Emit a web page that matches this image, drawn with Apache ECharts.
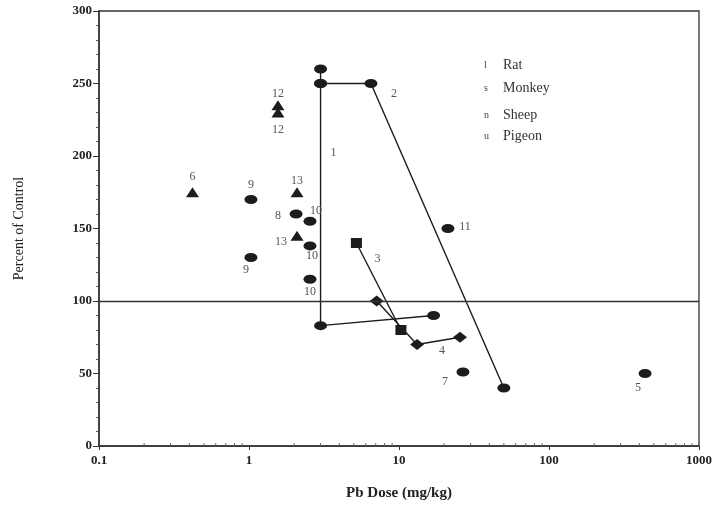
<!DOCTYPE html>
<html>
<head>
<meta charset="utf-8">
<script src="https://cdn.jsdelivr.net/npm/echarts@6/dist/echarts.min.js"></script>
<style>html,body{margin:0;padding:0;background:#fff}#c{width:718px;height:506px}</style>
</head>
<body>
<div id="c"></div>
<script>
// ---- data ----
const xTicks = [0.1, 1, 10, 100, 1000];
const yTicks = [0, 50, 100, 150, 200, 250, 300];
const controlLevel = 100;

// connected study lines
const line1X = [3, 3, 3, 17];
const line1Y = [260, 250, 83, 90];
const line2X = [3, 6.5, 50];
const line2Y = [250, 250, 40];
const line3X = [5.2, 10.3];           // monkey
const line3Y = [140, 80];
const line4X = [7.1, 13.2, 25.5];     // sheep
const line4Y = [100, 70, 75];

// isolated rat points
const ratX = [437, 26.7, 2.06, 1.03, 1.03, 2.55, 2.55, 2.55, 21.2];
const ratY = [50, 51, 160, 170, 130, 155, 138, 115, 150];
const ratLabels = ['5', '7', '8', '9', '9', '10', '10', '10', '11'];

// pigeon points
const pigeonX = [0.42, 1.56, 1.56, 2.09, 2.09];
const pigeonY = [175, 235, 230, 175, 145];
const pigeonLabels = ['6', '12', '12', '13', '13'];

// line labels (anchored to a point of the line)
const lineLabelText = ['1', '2', '3', '4'];

const legendSymbols = ['l', 's', 'n', 'u'];
const legendNames = ['Rat', 'Monkey', 'Sheep', 'Pigeon'];

// ---- styles (pixel offsets for annotations) ----
const ratOffsets = [[-7, 14], [-18, 10], [-18, 2], [0, -15], [-5, 12], [6, -10], [2, 10], [0, 13], [17, -2]];
const pigeonOffsets = [[0, -15], [0, -11], [0, 17], [0, -11], [-16, 6]];
const lineLabelOffsets = [[13, 69], [23, 10], [21, 16], [25, 6]];
const legendRowTop = [58, 81, 108, 129];

const INK = '#1c1c1c';
const LBL = '#555';
const SERIF = '"Liberation Serif", "DejaVu Serif", serif';

function pts(xs, ys) { return xs.map((x, i) => [x, ys[i]]); }

function labelled(xs, ys, texts, offs) {
  return xs.map((x, i) => ({
    value: [x, ys[i]],
    label: { show: true, formatter: texts[i], position: 'inside', offset: offs[i],
      color: LBL, fontFamily: SERIF, fontSize: 12 }
  }));
}

const circleSize = [13, 9];
const lineStyle = { color: INK, width: 1.4 };

function lineSeries(xs, ys, symbol, size, labelIdx, anchorIdx) {
  const data = pts(xs, ys).map((p, i) => {
    const d = { value: p };
    if (i === anchorIdx) {
      d.label = { show: true, formatter: lineLabelText[labelIdx], position: 'inside',
        offset: lineLabelOffsets[labelIdx], color: LBL, fontFamily: SERIF, fontSize: 12 };
    }
    return d;
  });
  return {
    type: 'line', data, symbol, symbolSize: size, showAllSymbol: true,
    lineStyle, itemStyle: { color: INK, opacity: 1 }, z: 3, animation: false
  };
}

// minor ticks for log axis (2..9 within each decade)
const minorX = [];
for (let d = 0; d < xTicks.length - 1; d++) {
  for (let k = 2; k <= 9; k++) minorX.push(+(xTicks[d] * k).toPrecision(3));
}

const chart = echarts.init(document.getElementById('c'));
chart.setOption({
  animation: false,
  backgroundColor: '#fff',
  grid: { left: 99, right: 19, top: 11, bottom: 59, show: true, borderColor: '#333', borderWidth: 1.3 },
  xAxis: {
    type: 'log', logBase: 10, min: xTicks[0], max: xTicks[xTicks.length - 1],
    name: 'Pb Dose (mg/kg)', nameLocation: 'middle', nameGap: 40,
    nameTextStyle: { fontFamily: SERIF, fontWeight: 'bold', fontSize: 15, color: '#222' },
    axisLine: { lineStyle: { color: '#333', width: 1.5 } },
    axisTick: { show: true, length: 4, lineStyle: { color: '#333' } },
    axisLabel: { fontFamily: SERIF, fontWeight: 'bold', fontSize: 13, color: '#222', margin: 8,
      formatter: v => String(v) },
    splitLine: { show: false }
  },
  yAxis: {
    type: 'value', min: 0, max: 300, interval: 50,
    name: 'Percent of Control', nameLocation: 'middle', nameGap: 73,
    nameTextStyle: { fontFamily: SERIF, fontSize: 14, color: '#222' },
    axisLine: { show: true, lineStyle: { color: '#333', width: 1.5 } },
    axisTick: { show: true, length: 6, lineStyle: { color: '#333' } },
    minorTick: { show: true, splitNumber: 5, length: 3, lineStyle: { color: '#555' } },
    axisLabel: { fontFamily: SERIF, fontWeight: 'bold', fontSize: 13, color: '#222', margin: 7 },
    splitLine: { show: false }
  },
  series: [
    {
      type: 'custom', silent: true, z: 1,
      data: minorX.map(v => [v, 0]),
      renderItem: (params, api) => {
        const p = api.coord([api.value(0), 0]);
        return { type: 'line', shape: { x1: p[0], y1: p[1], x2: p[0], y2: p[1] - 3 },
          style: { stroke: '#666', lineWidth: 1 } };
      }
    },
    {
      type: 'line', data: [], silent: true,
      markLine: { silent: true, symbol: 'none', label: { show: false },
        lineStyle: { color: '#333', width: 1.3, type: 'solid' },
        data: [{ yAxis: controlLevel }] }
    },
    lineSeries(line1X, line1Y, 'circle', circleSize, 0, 1),
    lineSeries(line2X, line2Y, 'circle', circleSize, 1, 1),
    lineSeries(line3X, line3Y, 'rect', [11, 10], 2, 0),
    lineSeries(line4X, line4Y, 'diamond', [14, 11], 3, 1),
    {
      type: 'scatter', symbol: 'circle', symbolSize: circleSize, itemStyle: { color: INK, opacity: 1 },
      data: labelled(ratX, ratY, ratLabels, ratOffsets), z: 4
    },
    {
      type: 'scatter', symbol: 'triangle', symbolSize: [13, 10], itemStyle: { color: INK, opacity: 1 },
      data: labelled(pigeonX, pigeonY, pigeonLabels, pigeonOffsets), z: 4
    }
  ],
  graphic: legendNames.flatMap((n, i) => [
    { type: 'text', left: 484, top: legendRowTop[i] + 2,
      style: { text: legendSymbols[i], font: '10px ' + SERIF, fill: '#444' } },
    { type: 'text', left: 503, top: legendRowTop[i],
      style: { text: n, font: '14px ' + SERIF, fill: '#333' } }
  ])
});
</script>
</body>
</html>
